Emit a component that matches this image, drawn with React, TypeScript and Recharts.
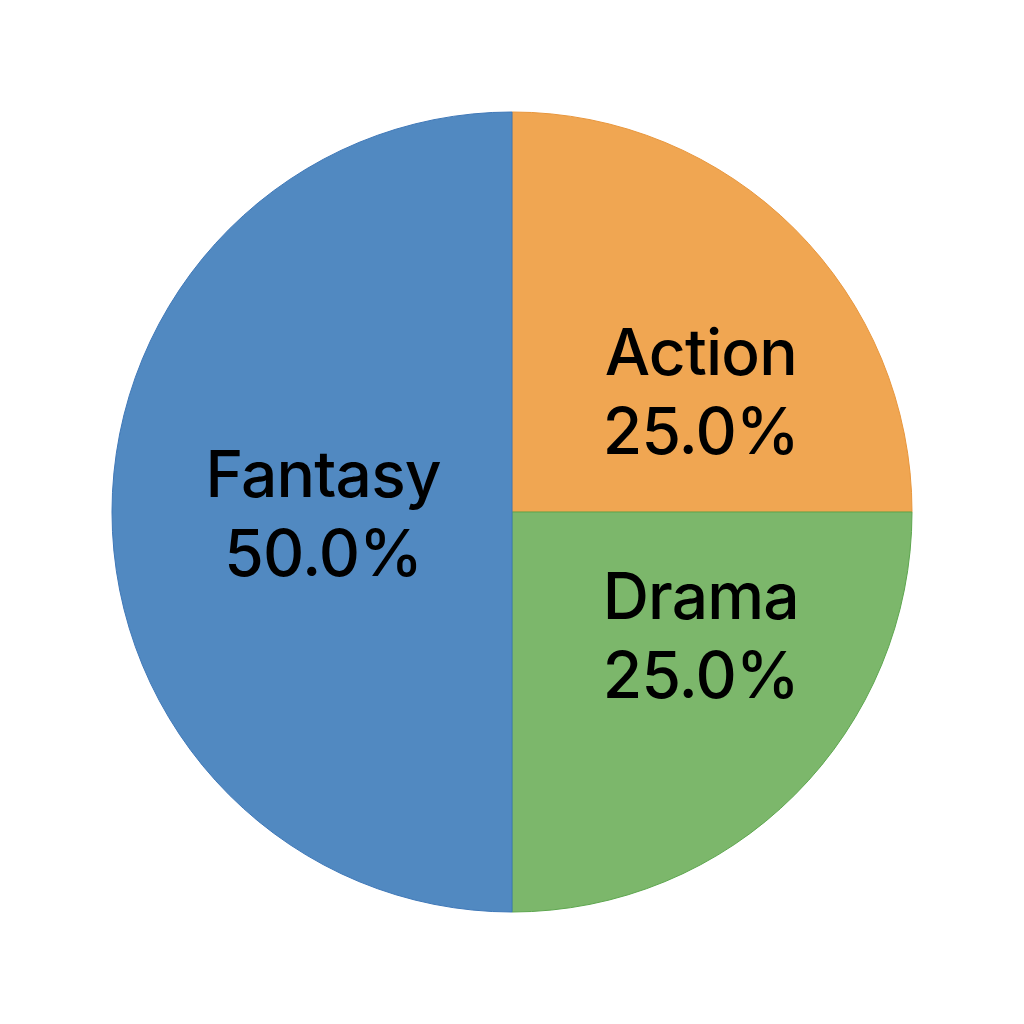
import React from "react";
import { PieChart, Pie, Cell } from "recharts";

const categories = ["Action", "Drama", "Fantasy"];
const values = [25, 25, 50];
const colors = ["#F0A652", "#7CB76B", "#5189C1"];
const strokes = ["#E8963C", "#5DA64E", "#3F78B8"];

const data = categories.map((name, i) => ({ name, value: values[i] }));
const total = values.reduce((a, b) => a + b, 0);

const RAD = Math.PI / 180;

const renderLabel = (props: any) => {
  const { cx, cy, midAngle, outerRadius, index } = props;
  const c = Math.cos(-midAngle * RAD);
  const s = Math.sin(-midAngle * RAD);
  const sx = Math.abs(c) < 1e-6 ? 0 : Math.sign(c);
  const x = cx + outerRadius * 0.472 * sx;
  const yc = cy + outerRadius * 0.43 * s;
  const pct = ((values[index] / total) * 100).toFixed(1) + "%";
  return (
    <text
      x={x}
      y={yc}
      textAnchor="middle"
      fill="#000"
      fontFamily="Inter, 'Noto Sans', sans-serif"
      fontWeight={500}
      fontSize={64}
      letterSpacing={-0.8}
    >
      <tspan x={x} y={yc - 15}>{categories[index]}</tspan>
      <tspan x={x} y={yc + 64}>{pct}</tspan>
    </text>
  );
};

export default function App() {
  return (
    <div style={{ position: "absolute", left: 0, top: 0, width: 1024, height: 1024, background: "#fff" }}>
      <PieChart width={1024} height={1024} margin={{ top: 0, right: 0, bottom: 0, left: 0 }}>
        <Pie
          data={data}
          dataKey="value"
          nameKey="name"
          cx={512}
          cy={512}
          outerRadius={400}
          startAngle={90}
          endAngle={-270}
          label={renderLabel}
          labelLine={false}
          isAnimationActive={false}
        >
          {data.map((d, i) => (
            <Cell key={d.name} fill={colors[i]} stroke={strokes[i]} strokeWidth={1} />
          ))}
        </Pie>
      </PieChart>
    </div>
  );
}
